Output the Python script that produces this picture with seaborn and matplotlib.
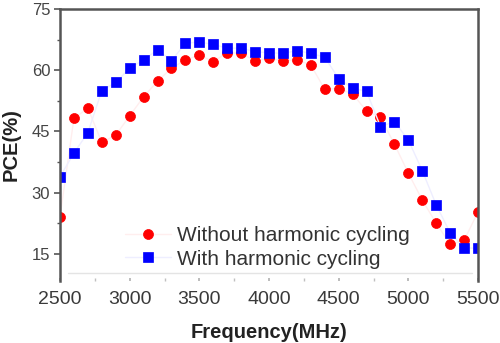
import numpy as np
import pandas as pd
import matplotlib
matplotlib.use("Agg")
import matplotlib.pyplot as plt
from matplotlib.ticker import MultipleLocator
import seaborn as sns

# ---- data ----
freq_mhz = [2500, 2600, 2700, 2800, 2900, 3000, 3100, 3200, 3300, 3400, 3500,
            3600, 3700, 3800, 3900, 4000, 4100, 4200, 4300, 4400, 4500, 4600,
            4700, 4800, 4900, 5000, 5100, 5200, 5300, 5400, 5500]
pce_without = [24.1, 48.2, 50.7, 42.3, 44.1, 48.8, 53.5, 57.3, 60.5, 62.5, 63.7,
               62.1, 64.3, 64.1, 62.3, 62.9, 62.3, 62.5, 61.3, 55.3, 55.5, 54.2,
               50.0, 48.5, 41.9, 34.8, 28.2, 22.5, 17.4, 18.3, 25.3]
pce_with = [33.9, 39.7, 44.7, 55.0, 57.0, 60.5, 62.5, 65.0, 62.3, 66.6, 66.9,
            66.3, 65.4, 65.4, 64.5, 64.3, 64.1, 64.8, 64.1, 63.2, 57.9, 55.6,
            54.8, 46.2, 47.4, 42.9, 35.4, 27.0, 20.2, 16.5, 16.4]
label_without = "Without harmonic cycling"
label_with = "With harmonic cycling"
x_ticks = [2500, 3000, 3500, 4000, 4500, 5000, 5500]
y_ticks = [15, 30, 45, 60, 75]

df = pd.DataFrame({"freq": freq_mhz, "without": pce_without, "with": pce_with})

sns.set_theme(style="white")
plt.rcParams["font.family"] = ["Liberation Sans", "DejaVu Sans"]

fig = plt.figure(figsize=(5.0, 3.43), dpi=100)
ax = fig.add_axes([0.12, 0.181, 0.836, 0.793])

sns.lineplot(data=df, x="freq", y="without", ax=ax, color="#ffeeee", lw=1.0,
             marker="o", markersize=7.2, markerfacecolor="#ff0000",
             markeredgecolor="#ff0000", markeredgewidth=0.5,
             label=label_without, clip_on=True)
sns.lineplot(data=df, x="freq", y="with", ax=ax, color="#eeeeff", lw=1.0,
             marker="s", markersize=6.5, markerfacecolor="#0000ff",
             markeredgecolor="#0000ff", markeredgewidth=0.5,
             label=label_with, clip_on=True)

ax.set_xlim(2500, 5500)
ax.set_ylim(8.4, 75)
ax.set_xticks(x_ticks)
ax.set_yticks(y_ticks)
ax.xaxis.set_minor_locator(MultipleLocator(250))
ax.yaxis.set_minor_locator(MultipleLocator(7.5))

# faint baseline inside the frame
ax.axhline(10.3, xmin=0.02, xmax=0.985, color="#e4e4e4", lw=1.0, zorder=0)

spine_col = "#555555"
for s in ["left", "top", "right"]:
    ax.spines[s].set_color(spine_col)
    ax.spines[s].set_linewidth(1.8)
ax.spines["bottom"].set_visible(False)

ax.tick_params(axis="y", which="major", direction="out", length=4, width=1.2,
               color=spine_col, labelsize=12, labelcolor="#444444", pad=3, left=True)
ax.tick_params(axis="y", which="minor", direction="out", length=2.5, width=1.0,
               color=spine_col, left=True)
ax.tick_params(axis="x", which="major", direction="in", length=2.5, width=1.2,
               color="#b0b0b0", labelsize=14, labelcolor="#3a3a3a", pad=7, bottom=True)
ax.tick_params(axis="x", which="minor", direction="in", length=2, width=1.0,
               color="#c0c0c0", bottom=True)

ax.set_xlabel("Frequency(MHz)", fontsize=14.5, fontweight="bold", color="#222222", labelpad=11)
ax.set_ylabel("PCE(%)", fontsize=14.5, fontweight="bold", color="#222222", labelpad=8)

ax.legend(loc="lower left", bbox_to_anchor=(0.136, 0.015), frameon=False,
          fontsize=15, handlelength=2.2, handletextpad=0.3, labelspacing=0.22,
          borderaxespad=0, borderpad=0.4, labelcolor="#333333")

fig.savefig("out.png", dpi=100)
